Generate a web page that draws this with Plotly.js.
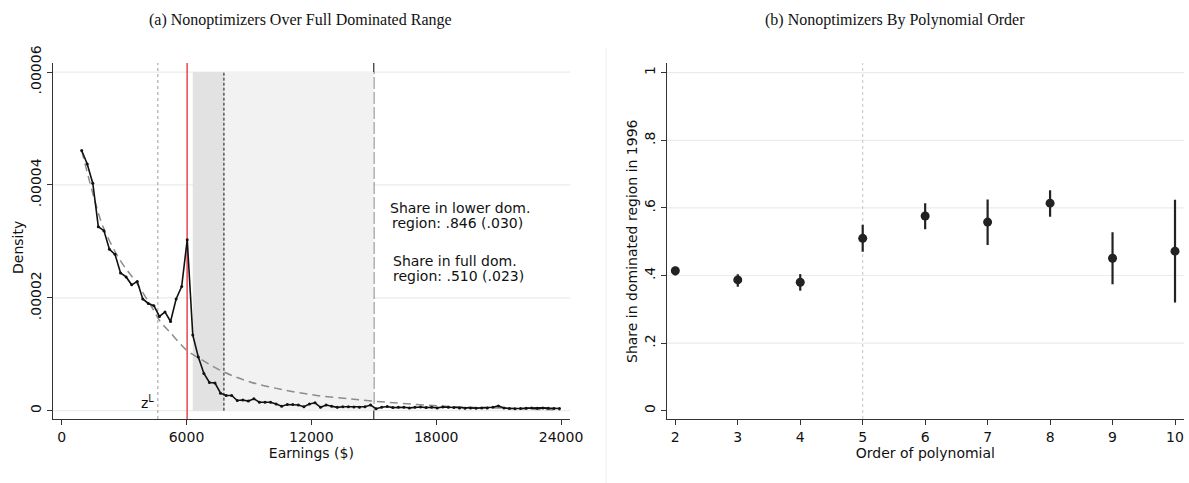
<!DOCTYPE html>
<html>
<head>
<meta charset="utf-8">
<script src="https://cdn.plot.ly/plotly-3.0.1.min.js"></script>
<style>html,body{margin:0;padding:0;background:#fff;}#chart{width:1189px;height:483px;}</style>
</head>
<body>
<div id="chart"></div>
<script>
// ---- Panel (a): binned earnings density (density in units of 1e-5) ----
const earnBins = [962, 1229, 1496, 1763, 2030, 2297, 2564, 2831, 3098, 3365, 3632, 3899, 4166, 4433, 4700, 4967, 5234, 5501, 5768, 6035,
  6302, 6569, 6836, 7103, 7370, 7637, 7904, 8171, 8438, 8705, 8972, 9239, 9506, 9773, 10040, 10307, 10574, 10841, 11108, 11375,
  11642, 11909, 12176, 12443, 12710, 12977, 13244, 13511, 13778, 14045, 14312, 14579, 14846, 15113, 15380, 15647, 15914, 16181, 16448, 16715,
  16982, 17249, 17516, 17783, 18050, 18317, 18584, 18851, 19118, 19385, 19652, 19919, 20186, 20453, 20720, 20987, 21254, 21521, 21788, 22055,
  22322, 22589, 22856, 23123, 23390, 23657, 23924];
const densityE5 = [4.61, 4.37, 4.03, 3.26, 3.19, 2.86, 2.77, 2.44, 2.37, 2.23, 2.29, 1.98, 1.90, 1.86, 1.67, 1.75, 1.58, 1.98, 2.20, 3.03,
  1.34, 0.95, 0.66, 0.50, 0.49, 0.31, 0.27, 0.27, 0.18, 0.19, 0.17, 0.21, 0.15, 0.15, 0.15, 0.12, 0.08, 0.11, 0.11, 0.10,
  0.07, 0.12, 0.14, 0.06, 0.10, 0.08, 0.06, 0.07, 0.07, 0.065, 0.06, 0.07, 0.10, 0.035, 0.06, 0.075, 0.055, 0.06, 0.06, 0.05,
  0.06, 0.065, 0.055, 0.06, 0.05, 0.065, 0.06, 0.055, 0.05, 0.045, 0.05, 0.045, 0.05, 0.05, 0.06, 0.085, 0.05, 0.04, 0.035, 0.04,
  0.045, 0.05, 0.045, 0.05, 0.045, 0.04, 0.04];
// counterfactual (polynomial fit)
const fitX = [962, 1601, 2000, 2803, 3606, 4404, 4700, 5207, 6010, 6567, 7769, 9053, 10654, 12260, 13861, 14981, 18188, 21394, 23957];
const fitE5 = [4.61, 3.71, 3.25, 2.67, 2.26, 1.79, 1.60, 1.39, 1.07, 0.94, 0.69, 0.51, 0.37, 0.27, 0.21, 0.17, 0.083, 0.043, 0.012];
const leftTickVals = [0, 0.00002, 0.00004, 0.00006];
const leftTickText = ["0", ".00002", ".00004", ".00006"];
const xTicksA = [0, 6000, 12000, 18000, 24000];
const xTickTextA = ["0", "6000", "12000", "18000", "24000"];
const zL = 4620, kink = 6030, lowerDomStart = 6300, lowerDomEnd = 7800, fullDomEnd = 15000;

// ---- Panel (b): share in dominated region by polynomial order ----
const polyOrder = [2, 3, 4, 5, 6, 7, 8, 9, 10];
const shareEst = [0.414, 0.387, 0.380, 0.510, 0.576, 0.558, 0.614, 0.451, 0.472];
const shareHi  = [0.426, 0.404, 0.404, 0.550, 0.614, 0.625, 0.652, 0.528, 0.624];
const shareLo  = [0.400, 0.367, 0.355, 0.470, 0.537, 0.490, 0.574, 0.374, 0.320];
const rightTickVals = [0, 0.2, 0.4, 0.6, 0.8, 1];
const rightTickText = ["0", ".2", ".4", ".6", ".8", "1"];
const chosenOrder = 5;

const W = 1189, H = 483;
const FONT = "DejaVu Sans";
const px = v => v / W, py = v => 1 - v / H;
const GRID = '#e6eeee';

const traces = [
  {x: fitX, y: fitE5.map(v => v * 1e-5), type: 'scatter', mode: 'lines', xaxis: 'x', yaxis: 'y',
   line: {color: '#8c8c8c', width: 1.5, dash: '8px,5px', shape: 'spline'}, hoverinfo: 'skip'},
  {x: earnBins, y: densityE5.map(v => v * 1e-5), type: 'scatter', mode: 'lines+markers', xaxis: 'x', yaxis: 'y',
   line: {color: '#111', width: 1.6}, marker: {color: '#111', size: 3}},
  {x: polyOrder, y: shareEst, type: 'scatter', mode: 'markers', xaxis: 'x2', yaxis: 'y2',
   marker: {color: '#222', size: 9},
   error_y: {type: 'data', symmetric: false,
     array: shareHi.map((h, i) => h - shareEst[i]),
     arrayminus: shareEst.map((e, i) => e - shareLo[i]),
     color: '#222', thickness: 2.2, width: 0}}
];

const shapes = [];
// gridlines (drawn first so shading covers them)
leftTickVals.forEach(v => shapes.push(
  {type: 'line', xref: 'x domain', yref: 'y', x0: 0, x1: 1, y0: v, y1: v,
   line: {color: GRID, width: 1.2}, layer: 'below'}));
rightTickVals.filter(v => v > 0).forEach(v => shapes.push(
  {type: 'line', xref: 'x2 domain', yref: 'y2', x0: 0, x1: 1, y0: v, y1: v,
   line: {color: GRID, width: 1.2}, layer: 'below'}));
shapes.push(
  {type: 'rect', xref: 'x', yref: 'y', x0: lowerDomStart, x1: lowerDomEnd, y0: 0, y1: 0.00006,
   fillcolor: '#e2e2e2', line: {width: 0}, layer: 'below'},
  {type: 'rect', xref: 'x', yref: 'y', x0: lowerDomEnd, x1: fullDomEnd, y0: 0, y1: 0.00006,
   fillcolor: '#f2f2f2', line: {width: 0}, layer: 'below'},
  {type: 'line', xref: 'x', yref: 'paper', x0: zL, x1: zL, y0: py(419), y1: py(63),
   line: {color: '#bdbdbd', width: 1.5, dash: '3px,3px'}, layer: 'below'},
  {type: 'line', xref: 'x', yref: 'y', x0: lowerDomEnd, x1: lowerDomEnd, y0: 0, y1: 0.00006,
   line: {color: '#111', width: 1, dash: '3px,2px'}, layer: 'below'},
  {type: 'line', xref: 'x', yref: 'paper', x0: fullDomEnd, x1: fullDomEnd, y0: py(419), y1: py(63),
   line: {color: '#1a1a1a', width: 1.1, dash: '12px,3px'}, layer: 'below'},
  {type: 'line', xref: 'x', yref: 'paper', x0: kink, x1: kink, y0: py(419), y1: py(63),
   line: {color: '#e8474a', width: 1.5}, layer: 'below'},
  {type: 'line', xref: 'x2', yref: 'paper', x0: chosenOrder, x1: chosenOrder, y0: py(419), y1: py(63),
   line: {color: '#cfcfcf', width: 1.2, dash: '3px,3px'}, layer: 'below'},
  {type: 'line', xref: 'paper', yref: 'paper', x0: px(606), x1: px(606), y0: 0, y1: py(48),
   line: {color: '#eeeeee', width: 1}, layer: 'below'}
);

const txt = (text, x, y, xa, opts) => Object.assign({text: text, xref: 'paper', yref: 'paper', x: px(x), y: py(y),
  xanchor: xa, yanchor: 'middle', showarrow: false, font: {family: FONT, size: 14, color: '#111'}}, opts || {});

const annotations = [
  txt('(a) Nonoptimizers Over Full Dominated Range', 300, 20, 'center', {font: {family: 'Liberation Serif', size: 16, color: '#111'}}),
  txt('(b) Nonoptimizers By Polynomial Order', 895, 20, 'center', {font: {family: 'Liberation Serif', size: 16, color: '#111'}}),
  txt('Share in lower dom.', 388, 208, 'left'),
  txt('region: .846 (.030)', 390, 223, 'left'),
  txt('Share in full dom.', 391, 261, 'left'),
  txt('region: .510 (.023)', 391, 276, 'left'),
  txt('z<sup>L</sup>', 147, 402, 'center'),
  txt('Density', 18, 248, 'center', {textangle: -90}),
  txt('Share in dominated region in 1996', 632, 241, 'center', {textangle: -90})
];

const axisCommon = {
  showline: true, linecolor: '#333', linewidth: 1, ticks: 'outside', ticklen: 5, tickcolor: '#333',
  zeroline: false, showgrid: false, tickfont: {family: FONT, size: 14, color: '#111'}
};

const layout = {
  width: W, height: H,
  margin: {l: 0, r: 0, t: 0, b: 0},
  paper_bgcolor: '#fff', plot_bgcolor: 'rgba(0,0,0,0)',
  showlegend: false,
  font: {family: FONT, size: 14, color: '#111'},
  xaxis: Object.assign({}, axisCommon, {
    domain: [px(52.7), px(570)], range: [-430, 24430], tickvals: xTicksA, ticktext: xTickTextA,
    title: {text: 'Earnings ($)', font: {family: FONT, size: 14, color: '#111'}, standoff: 4}, anchor: 'y'}),
  yaxis: Object.assign({}, axisCommon, {
    domain: [py(419), py(63)], range: [-0.00000147, 0.0000616], tickvals: leftTickVals, ticktext: leftTickText,
    tickangle: -90, anchor: 'x'}),
  xaxis2: Object.assign({}, axisCommon, {
    domain: [px(666.7), px(1184)], range: [1.862, 10.144], tickvals: polyOrder,
    title: {text: 'Order of polynomial', font: {family: FONT, size: 14, color: '#111'}, standoff: 4}, anchor: 'y2'}),
  yaxis2: Object.assign({}, axisCommon, {
    domain: [py(419), py(63)], range: [-0.0246, 1.0287], tickvals: rightTickVals, ticktext: rightTickText,
    tickangle: -90, anchor: 'x2'}),
  shapes: shapes,
  annotations: annotations
};

Plotly.newPlot('chart', traces, layout, {displayModeBar: false, staticPlot: true});
</script>
</body>
</html>
